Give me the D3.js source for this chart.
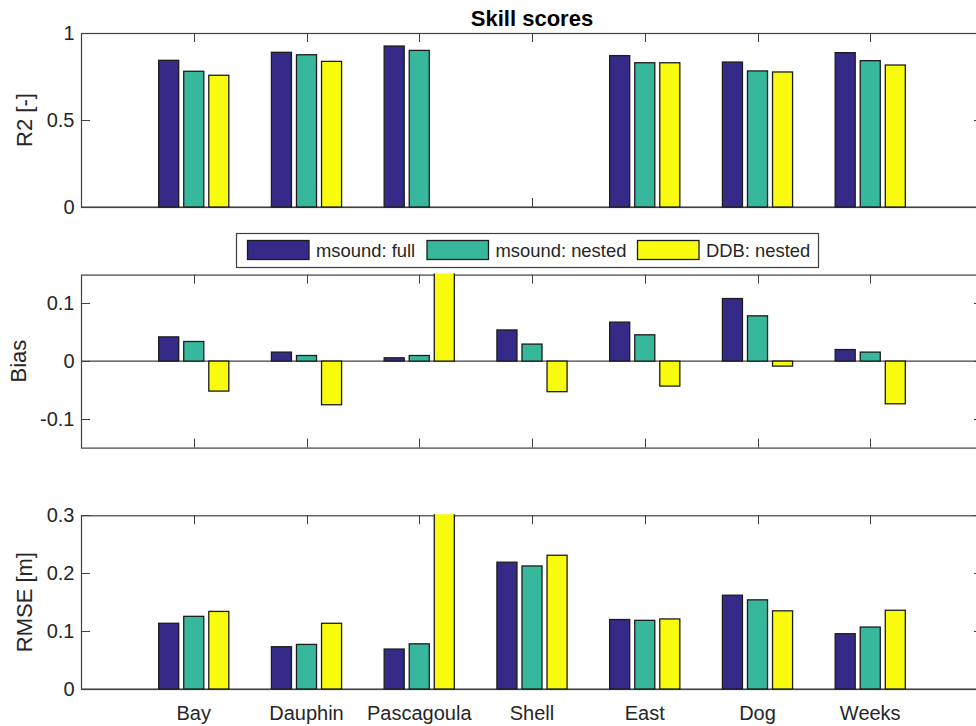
<!DOCTYPE html>
<html>
<head>
<meta charset="utf-8">
<script src="https://cdn.jsdelivr.net/npm/d3@7"></script>
<style>
  html, body { margin: 0; padding: 0; background: #fff; }
  svg { display: block; font-family: "Liberation Sans", Arial, Helvetica, sans-serif; }
</style>
</head>
<body>
<svg id="chart" width="976" height="726"></svg>
<script>
// Stations along the x axis
const categories = ["Bay", "Dauphin", "Pascagoula", "Shell", "East", "Dog", "Weeks"];
const seriesNames = ["msound: full", "msound: nested", "DDB: nested"];
const seriesColors = ["#352A87", "#37B89D", "#F9FB0E"];

// R2 [-] (NaN = no data)
const r2Full   = [0.843, 0.889, 0.925, NaN, 0.870, 0.833, 0.887];
const r2Nested = [0.780, 0.875, 0.900, NaN, 0.829, 0.782, 0.841];
const r2Ddb    = [0.757, 0.837, NaN,   NaN, 0.829, 0.776, 0.816];

// Bias
const biasFull   = [0.042, 0.0156, 0.0057, 0.054, 0.0676, 0.1085, 0.020];
const biasNested = [0.034, 0.0097, 0.0097, 0.0295, 0.0456, 0.0785, 0.0156];
const biasDdb    = [-0.052, -0.0757, 0.21, -0.053, -0.0433, -0.0087, -0.074];

// RMSE [m]
const rmseFull   = [0.1135, 0.073, 0.069, 0.219, 0.120, 0.162, 0.0955];
const rmseNested = [0.1255, 0.077, 0.078, 0.2125, 0.1186, 0.154, 0.107];
const rmseDdb    = [0.134, 0.1135, 0.36, 0.231, 0.121, 0.135, 0.136];

// Axis ticks
const r2Ticks = [0, 0.5, 1];
const r2TickLabels = ["0", "0.5", "1"];
const biasTicks = [-0.1, 0, 0.1];
const biasTickLabels = ["-0.1", "0", "0.1"];
const rmseTicks = [0, 0.1, 0.2, 0.3];
const rmseTickLabels = ["0", "0.1", "0.2", "0.3"];

const svg = d3.select("#chart");
const axisColor = "#404040";
const textColor = "#262626";
const tickLen = 9;

const left = 81, right = 983;
const x = d3.scaleLinear().domain([0, categories.length + 1]).range([left, right]);
const unit = x(1) - x(0);
const groupWidth = Math.min(0.8, 3 / (3 + 1.5));
const barStep = groupWidth / 3;
const barW = barStep * 0.8;

const panels = [
  { top: 33, bottom: 207, domain: [0, 1], ticks: r2Ticks, labels: r2TickLabels,
    ylabel: "R2 [-]", ylabelX: 24.5, series: [r2Full, r2Nested, r2Ddb] },
  { top: 274.6, bottom: 447.6, domain: [-0.15, 0.15], ticks: biasTicks, labels: biasTickLabels,
    ylabel: "Bias", ylabelX: 18, series: [biasFull, biasNested, biasDdb] },
  { top: 515.3, bottom: 689, domain: [0, 0.3], ticks: rmseTicks, labels: rmseTickLabels,
    ylabel: "RMSE [m]", ylabelX: 24.5, series: [rmseFull, rmseNested, rmseDdb] }
];

panels.forEach((p, pi) => {
  const y = d3.scaleLinear().domain(p.domain).range([p.bottom, p.top]);
  const g = svg.append("g");

  // tick marks (inside the box, on all four sides)
  const tg = g.append("g").attr("stroke", axisColor).attr("stroke-width", 1);
  categories.forEach((c, i) => {
    const xv = Math.round(x(i + 1)) + 0.5;
    tg.append("line").attr("x1", xv).attr("x2", xv).attr("y1", p.top).attr("y2", p.top + tickLen);
    tg.append("line").attr("x1", xv).attr("x2", xv).attr("y1", p.bottom).attr("y2", p.bottom - tickLen);
  });
  p.ticks.forEach(t => {
    const yv = Math.round(y(t)) + 0.5;
    tg.append("line").attr("x1", left).attr("x2", left + tickLen).attr("y1", yv).attr("y2", yv);
    tg.append("line").attr("x1", right).attr("x2", right - tickLen).attr("y1", yv).attr("y2", yv);
  });

  // box
  g.append("rect")
    .attr("x", left + 0.5).attr("y", p.top + 0.5)
    .attr("width", right - left).attr("height", p.bottom - p.top)
    .attr("fill", "none").attr("stroke", axisColor).attr("stroke-width", 1.2);

  // bar baseline
  g.append("line")
    .attr("x1", left).attr("x2", right)
    .attr("y1", y(0)).attr("y2", y(0))
    .attr("stroke", axisColor).attr("stroke-width", 1.2);

  // bars, clipped to the axes box
  const clipId = "clip" + pi;
  svg.append("clipPath").attr("id", clipId)
    .append("rect").attr("x", left).attr("y", p.top - 1)
    .attr("width", right - left).attr("height", p.bottom - p.top + 2);
  const bg = g.append("g").attr("clip-path", `url(#${clipId})`);
  p.series.forEach((vals, si) => {
    const rows = vals.map((v, i) => ({ v, i })).filter(d => !isNaN(d.v));
    bg.selectAll(null).data(rows).enter().append("rect")
      .attr("x", d => x(d.i + 1 + (si - 1) * barStep) - barW * unit / 2)
      .attr("width", barW * unit)
      .attr("y", d => Math.min(y(d.v), y(0)))
      .attr("height", d => Math.abs(y(d.v) - y(0)))
      .attr("fill", seriesColors[si])
      .attr("stroke", "#1c1c1c")
      .attr("stroke-width", 1.3);
  });

  // y tick labels
  g.append("g").selectAll("text").data(p.ticks).enter().append("text")
    .attr("x", left - 6.5)
    .attr("y", d => y(d))
    .attr("dy", "0.35em")
    .attr("text-anchor", "end")
    .attr("font-size", 20)
    .attr("fill", textColor)
    .text((d, i) => p.labels[i]);

  // y label
  g.append("text")
    .attr("transform", `translate(${p.ylabelX},${(p.top + p.bottom) / 2}) rotate(-90)`)
    .attr("dy", "0.35em")
    .attr("text-anchor", "middle")
    .attr("font-size", 22)
    .attr("fill", textColor)
    .text(p.ylabel);
});

// x tick labels on bottom panel
svg.append("g").selectAll("text").data(categories).enter().append("text")
  .attr("x", (d, i) => x(i + 1))
  .attr("y", 720)
  .attr("text-anchor", "middle")
  .attr("font-size", 20)
  .attr("fill", textColor)
  .text(d => d);

// title
svg.append("text")
  .attr("x", (left + right) / 2)
  .attr("y", 26)
  .attr("text-anchor", "middle")
  .attr("font-size", 22)
  .attr("font-weight", "bold")
  .attr("fill", "#000")
  .text("Skill scores");

// legend
const legend = svg.append("g");
legend.append("rect")
  .attr("x", 236.5).attr("y", 233.5).attr("width", 582).attr("height", 34)
  .attr("fill", "#fff").attr("stroke", axisColor).attr("stroke-width", 1.2);
const legendX = [247.5, 427, 637.5];
seriesNames.forEach((name, i) => {
  legend.append("rect")
    .attr("x", legendX[i]).attr("y", 240.5).attr("width", 61.5).attr("height", 19)
    .attr("fill", seriesColors[i]).attr("stroke", "#1c1c1c").attr("stroke-width", 1.3);
  legend.append("text")
    .attr("x", legendX[i] + 68.5).attr("y", 256.5)
    .attr("font-size", 18.4)
    .attr("fill", textColor)
    .text(name);
});
</script>
</body>
</html>
